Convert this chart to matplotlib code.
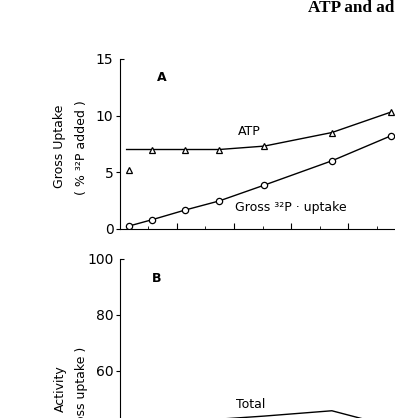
import matplotlib
matplotlib.use("Agg")
import matplotlib.pyplot as plt
import matplotlib.lines as mlines

# time axis in tick units (same points for both panels)
time = [0.33, 1.14, 2.29, 3.48, 5.06, 7.43, 9.49]
atp = [5.2, 7.0, 7.0, 7.0, 7.3, 8.5, 10.3]
gross_uptake = [0.24, 0.8, 1.65, 2.45, 3.85, 6.0, 8.2]

# the drawn ATP curve starts flat at the axis and skips the first point
atp_curve_t = [0.24] + time[1:]
atp_curve = [7.0] + atp[1:]

total_time = [2.29, 3.48, 5.06, 7.43, 9.49]
total_act = [40.0, 42.8, 43.9, 45.8, 40.3]

W, H = 395, 418
plt.rcParams['font.family'] = ['DejaVu Sans']
fig = plt.figure(figsize=(W / 100, H / 100), dpi=100)

x0 = 119.75          # px of x origin
dx = 28.55           # px per x unit
xmax = 11
axw = xmax * dx / W

# panel A
axA = fig.add_axes([x0 / W, (H - 228.7) / H, axw, 169.7 / H])
axA.plot(atp_curve_t, atp_curve, "k-", lw=1.0)
axA.plot(time, atp, "none", marker="^", ms=5, mfc="white", mec="k", mew=0.9)
axA.plot(time, gross_uptake, "k-", lw=1.0, marker="o", ms=4.5, mfc="white", mec="k", mew=0.9)
axA.set_xlim(0, xmax)
axA.set_ylim(0, 15)
axA.set_yticks([0, 5, 10, 15])
axA.set_xticks([2, 4, 6, 8, 10])
axA.set_xticks([1, 3, 5, 7, 9], minor=True)
axA.tick_params(axis="x", which="major", direction="in", length=4, labelbottom=False)
axA.tick_params(axis="x", which="minor", direction="in", length=2.5)
axA.tick_params(axis="y", direction="out", length=3, pad=1.5, labelsize=10)
axA.spines["top"].set_visible(False)
axA.spines["right"].set_visible(False)
axA.text(1.47, 13.35, "A", fontsize=9, fontweight="bold", ha="center", va="center")
axA.text(4.53, 8.58, "ATP", fontsize=9, ha="center", va="center")
axA.text(4.04, 1.89, "Gross ³²P · uptake", fontsize=9, ha="left", va="center")

# panel B
axB = fig.add_axes([x0 / W, (H - 539) / H, axw, 280 / H])
axB.plot(total_time, total_act, "k-", lw=1.0)
axB.set_xlim(0, xmax)
axB.set_ylim(0, 100)
axB.set_yticks([0, 20, 40, 60, 80, 100])
axB.set_xticks([])
axB.tick_params(axis="y", direction="out", length=3, pad=1.5, labelsize=10)
for s in ["top", "right", "bottom"]:
    axB.spines[s].set_visible(False)
axB.text(1.29, 93.1, "B", fontsize=9, fontweight="bold", ha="center", va="center")
axB.text(4.57, 47.9, "Total", fontsize=9, ha="center", va="center")

# top ticks point inward
for ax in (axA, axB):
    ax.yaxis.get_major_ticks()[-1].tick1line.set_marker(mlines.TICKRIGHT)

# y labels
fig.text(60 / W, (H - 146) / H, "Gross Uptake", rotation=90, fontsize=9, ha="center", va="center")
fig.text(81.7 / W, (H - 147.5) / H, "( % ³²P added )", rotation=90, fontsize=9, ha="center", va="center")
fig.text(60 / W, (H - 365) / H, "Activity", rotation=90, fontsize=9, ha="center", va="top")
fig.text(82 / W, (H - 347) / H, "( % of gross uptake )", rotation=90, fontsize=9, ha="center", va="top")

fig.text(308 / W, (H - 8) / H, "ATP and adenine", fontsize=12.3, fontweight="bold",
         family="Liberation Serif", ha="left", va="center")

fig.savefig("out.png", dpi=100)
